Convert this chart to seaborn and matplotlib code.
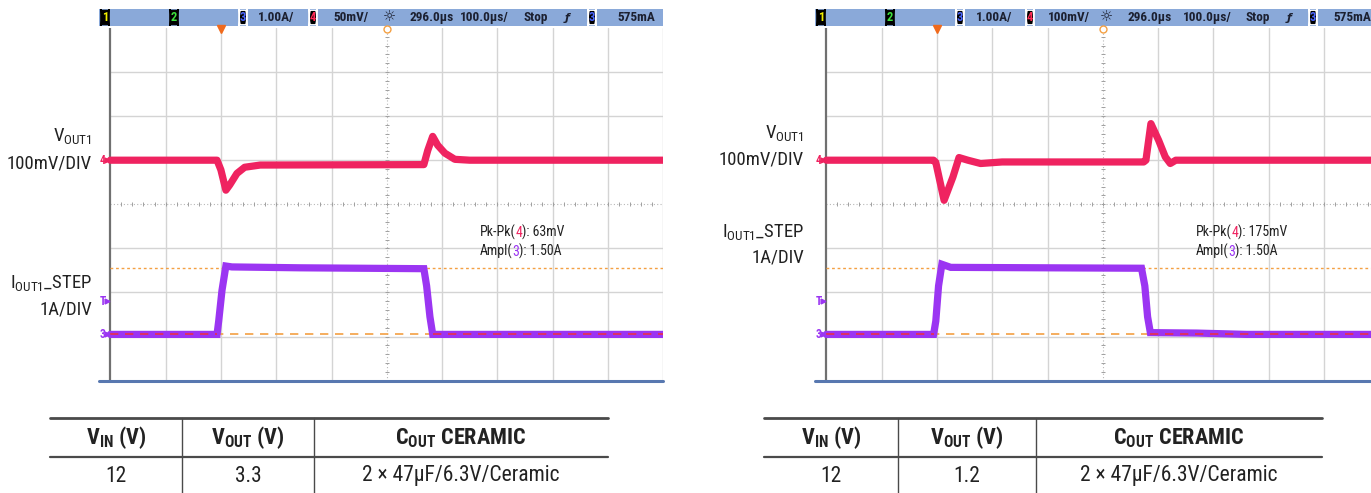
from collections import defaultdict
import numpy as np
import pandas as pd
import matplotlib
matplotlib.use("Agg")
import matplotlib.pyplot as plt
from matplotlib import font_manager
from matplotlib.patches import FancyBboxPatch
import seaborn as sns

# ---- values read off the two scope captures ----
# time in us (trigger = 0), Vout deviation in mV, load step in A
left_vout_t = [-200, -7, 0, 9, 16, 29, 43, 71, 367, 374, 383, 392, 405, 423, 450, 800]
left_vout_mv = [0, 0, -11, -34, -28, -15, -8, -5.5, -5, 11, 27, 17, 8, 1, 0, 0]
left_iout_t = [-200, -7, -4, 2, 9, 20, 143, 367, 372, 378, 383, 800]
left_iout_a = [0, 0, 0.3, 1.0, 1.55, 1.53, 1.51, 1.49, 1.1, 0.4, 0, 0]

right_vout_t = [-200, -6, -2, 13, 29, 40, 56, 79, 118, 374, 378, 387, 401, 413, 422, 432, 800]
right_vout_mv = [0, 0, -5, -91, -38, 6, 0, -7.5, -4, -4, 0, 83, 45, 7.5, -7.5, 0, 0]
right_iout_t = [-200, -6, -2, 3, 9, 25, 370, 376, 381, 386, 470, 560, 800]
right_iout_a = [0, 0, 0.3, 1.1, 1.59, 1.52, 1.50, 1.1, 0.4, 0.04, 0.03, 0, 0]

left_mv_per_div = 50
right_mv_per_div = 100
amps_per_div = 1.0
step_level_a = 1.50
trigger_level_a = 0.75

left_header = ["1.00A/", "50mV/", "296.0µs", "100.0µs/", "Stop", "575mA"]
right_header = ["1.00A/", "100mV/", "296.0µs", "100.0µs/", "Stop", "575mA"]
left_pkpk = "63mV"
right_pkpk = "175mV"
ampl_text = "1.50A"

scope_labels = ["V$_{OUT1}$", "100mV/DIV", "I$_{OUT1}$_STEP", "1A/DIV"]
table_cols = ["V$_{IN}$ (V)", "V$_{OUT}$ (V)", "C$_{OUT}$ CERAMIC"]
left_row = ["12", "3.3", "2 × 47µF/6.3V/Ceramic"]
right_row = ["12", "1.2", "2 × 47µF/6.3V/Ceramic"]

# ---- style ----
sns.set_style("white")
weights = defaultdict(set)
for f in font_manager.fontManager.ttflist:
    weights[f.name].add(f.weight if isinstance(f.weight, int) else 400)
pref = ["Roboto Condensed", "Archivo Narrow", "PT Sans Narrow", "Barlow Semi Condensed",
        "Asap Condensed", "Liberation Sans Narrow", "Liberation Sans"]
REG = next(p for p in pref if 400 in weights[p] or p == "Liberation Sans")
BOLD = next(p for p in pref if any(w >= 600 for w in weights[p]) or p == "Liberation Sans")
plt.rcParams["font.family"] = [REG, "DejaVu Sans"]
plt.rcParams["mathtext.default"] = "regular"

PINK = "#ef2360"
PURPLE = "#9b35f2"
ORANGE = "#f4a043"
GRID = "#d4d4d4"
HDR = "#8aa9d9"
INK = "#222222"

W, H = 1371, 493
CH4 = 1.0      # screen position of channel 4 ground (div)
CH3 = -2.95    # screen position of channel 3 ground (div)
T_LEFT = -200 - (110.3 - 99) / 55.3 * 100

fig = plt.figure(figsize=(W / 100, H / 100), dpi=100)


def px_axes(x0, y0, x1, y1, **kw):
    return fig.add_axes([x0 / W, 1 - y1 / H, (x1 - x0) / W, (y1 - y0) / H], **kw)


overlay = px_axes(0, 0, W, H)
overlay.set_xlim(0, W)
overlay.set_ylim(H, 0)
overlay.set_axis_off()


def ch_box(hax, x, num, col):
    hax.add_patch(FancyBboxPatch((x, 0.08), 8, 0.84, boxstyle="round,pad=0,rounding_size=1.5",
                                 fc="black", ec="white" if num in "34" else "black", lw=0.8))
    hax.text(x + 4, 0.5, num, color=col, ha="center", va="center", fontsize=9,
             family=BOLD, fontweight="bold")


def draw_header(x0, texts, pos):
    hax = px_axes(x0, 9, x0 + 564.3, 26)
    hax.set_xlim(0, 564.3)
    hax.set_ylim(0, 1)
    hax.set_facecolor(HDR)
    for s in hax.spines.values():
        s.set_visible(False)
    hax.set_xticks([])
    hax.set_yticks([])
    ch_box(hax, pos["b1"], "1", "#f2f000")
    ch_box(hax, pos["b2"], "2", "#3ee03e")
    ch_box(hax, pos["b3"], "3", "#4a66ff")
    ch_box(hax, pos["b4"], "4", "#ff2a55")
    ch_box(hax, pos["b3b"], "3", "#4a66ff")
    kw = dict(va="center", ha="left", fontsize=9.5, family=BOLD, fontweight="bold", color="#1c2030")
    for s, x in zip(texts, pos["txt"]):
        hax.text(x, 0.48, s, **kw)
    hax.text(pos["sun"], 0.48, "☼", family="DejaVu Sans", ha="center", va="center", fontsize=10.5, color="#1c2030")
    hax.text(pos["f"], 0.48, "ƒ", family="DejaVu Sans", ha="center", va="center", fontsize=8,
             fontweight="bold", style="italic", color="#1c2030")


def rainbow(ax, x, y, parts, size=10):
    prev = ax.text(x, y, parts[0][0], color=parts[0][1], fontsize=size, va="center", ha="left")
    for s, c in parts[1:]:
        prev = ax.annotate(s, xycoords=prev, xy=(1, 0), va="bottom", ha="left", color=c, fontsize=size)


def draw_scope(x0, vt, vmv, it, ia, mv_div, pkpk):
    ax = px_axes(x0, 27.9, x0 + 564.3, 380.7)
    ax.set_xlim(T_LEFT, 800)
    ax.set_ylim(-4, 4)

    # graticule
    for t in range(-100, 801, 100):
        if t == 300:
            ax.plot([t, t], [-4, 4], color="#b8b8b8", lw=0.8, ls=(0, (1, 2)), zorder=1)
        else:
            ax.plot([t, t], [-4, 4], color=GRID, lw=1.0, zorder=1)
    for y in range(-3, 4):
        if y == 0:
            ax.plot([-200, 800], [0, 0], color="#b8b8b8", lw=0.8, ls=(0, (1, 2)), zorder=1)
        else:
            ax.plot([-200, 800], [y, y], color=GRID, lw=1.0, zorder=1)
    ax.plot(np.arange(-180, 800, 20), np.zeros(49), ls="none", marker="|", ms=3, color="#a0a0a0", mew=0.7)
    ax.plot(np.full(39, 300), np.arange(-3.8, 3.9, 0.2), ls="none", marker="_", ms=3, color="#a0a0a0", mew=0.7)
    ax.plot([-200, -200], [-4, 4], color="#707070", lw=1.6, zorder=2)
    ax.plot([T_LEFT, 800], [-4, -4], color="#5878b0", lw=2.2, zorder=2, clip_on=False)

    # reference lines for the load step levels
    ax.hlines(CH3 + step_level_a / amps_per_div, -200, 800, color=ORANGE, lw=1.0, ls=(0, (2, 2)), zorder=2)
    ax.hlines(CH3, -200, 800, color=ORANGE, lw=1.2, ls=(0, (5, 4)), zorder=2)

    vdf = pd.DataFrame({"t": vt, "y": CH4 + np.array(vmv) / mv_div})
    idf = pd.DataFrame({"t": it, "y": CH3 + np.array(ia) / amps_per_div})
    sns.lineplot(data=vdf, x="t", y="y", ax=ax, color=PINK, lw=5.2, estimator=None, sort=False, zorder=4)
    sns.lineplot(data=idf, x="t", y="y", ax=ax, color=PURPLE, lw=5.2, estimator=None, sort=False, zorder=4,
                 solid_joinstyle="miter")

    # red dashed ground marker where the step trace sits at zero
    ia_arr = np.array(ia)
    peak = int(np.argmax(ia_arr))
    low_after = peak + int(np.argmax(ia_arr[peak:] < 0.1))
    ax.hlines(CH3, it[0], it[1], color="#e8304a", lw=1.2, ls=(0, (5, 4)), zorder=5)
    ax.hlines(CH3, it[low_after], it[-1], color="#e8304a", lw=1.2, ls=(0, (5, 4)), zorder=5)

    # channel markers
    for y, s, c in [(CH4, "4", PINK), (CH3 + trigger_level_a / amps_per_div, "T", PURPLE), (CH3, "3", PURPLE)]:
        ax.text(-219, y, s, color=c, fontsize=8.5, family=BOLD, fontweight="bold", va="center", ha="left", zorder=6)
        ax.plot([-206], [y], marker=">", ms=3.5, color=c, clip_on=False, zorder=6)
    ax.plot([0], [3.97], marker="v", ms=5.5, color="#f06a1c", clip_on=False, zorder=6)
    ax.plot([300], [3.97], marker="o", ms=5, mfc="white", mec=ORANGE, mew=1, clip_on=False, zorder=6)

    rainbow(ax, 468, -0.63, [("Pk-Pk(", INK), ("4", PINK), ("): " + pkpk, INK)])
    rainbow(ax, 468, -1.06, [("Ampl(", INK), ("3", PURPLE), ("): " + ampl_text, INK)])
    ax.set_axis_off()
    return ax


def draw_labels(xr, ys):
    for s, y in zip(scope_labels, ys):
        overlay.text(xr, y, s, ha="right", va="center", fontsize=13.5, color=INK)


def draw_table(x0, x1, seps, row):
    overlay.plot([x0, x1], [418, 418], color="#4a4a4a", lw=2.0)
    overlay.plot([x0, x1], [457, 457], color="#4a4a4a", lw=1.6)
    for s in seps:
        overlay.plot([s, s], [418, H], color="#4a4a4a", lw=1.0)
    edges = [x0] + seps + [x1]
    for i in range(3):
        cx = (edges[i] + edges[i + 1]) / 2
        overlay.text(cx, 438, table_cols[i], ha="center", va="center", fontsize=16,
                     family=BOLD, fontweight="bold", color=INK)
        overlay.text(cx, 476, row[i], ha="center", va="center", fontsize=15.5, color=INK)


left_pos = dict(b1=2, b2=71, b3=140, b4=210, b3b=489, sun=290, f=468,
                txt=[159, 234, 311, 361, 425, 518])
right_pos = dict(b1=2, b2=71, b3=141, b4=211, b3b=494, sun=291, f=474,
                 txt=[161, 233, 313, 368, 430, 518])

draw_header(99, left_header, left_pos)
draw_header(815, right_header, right_pos)
draw_scope(99, left_vout_t, left_vout_mv, left_iout_t, left_iout_a, left_mv_per_div, left_pkpk)
draw_scope(815, right_vout_t, right_vout_mv, right_iout_t, right_iout_a, right_mv_per_div, right_pkpk)
draw_labels(92, [136, 164, 283, 309])
draw_labels(804, [133, 160, 232, 257])
draw_table(50, 608, [182, 314], left_row)
draw_table(764, 1322, [898, 1036], right_row)

fig.savefig("out.png", dpi=100)
